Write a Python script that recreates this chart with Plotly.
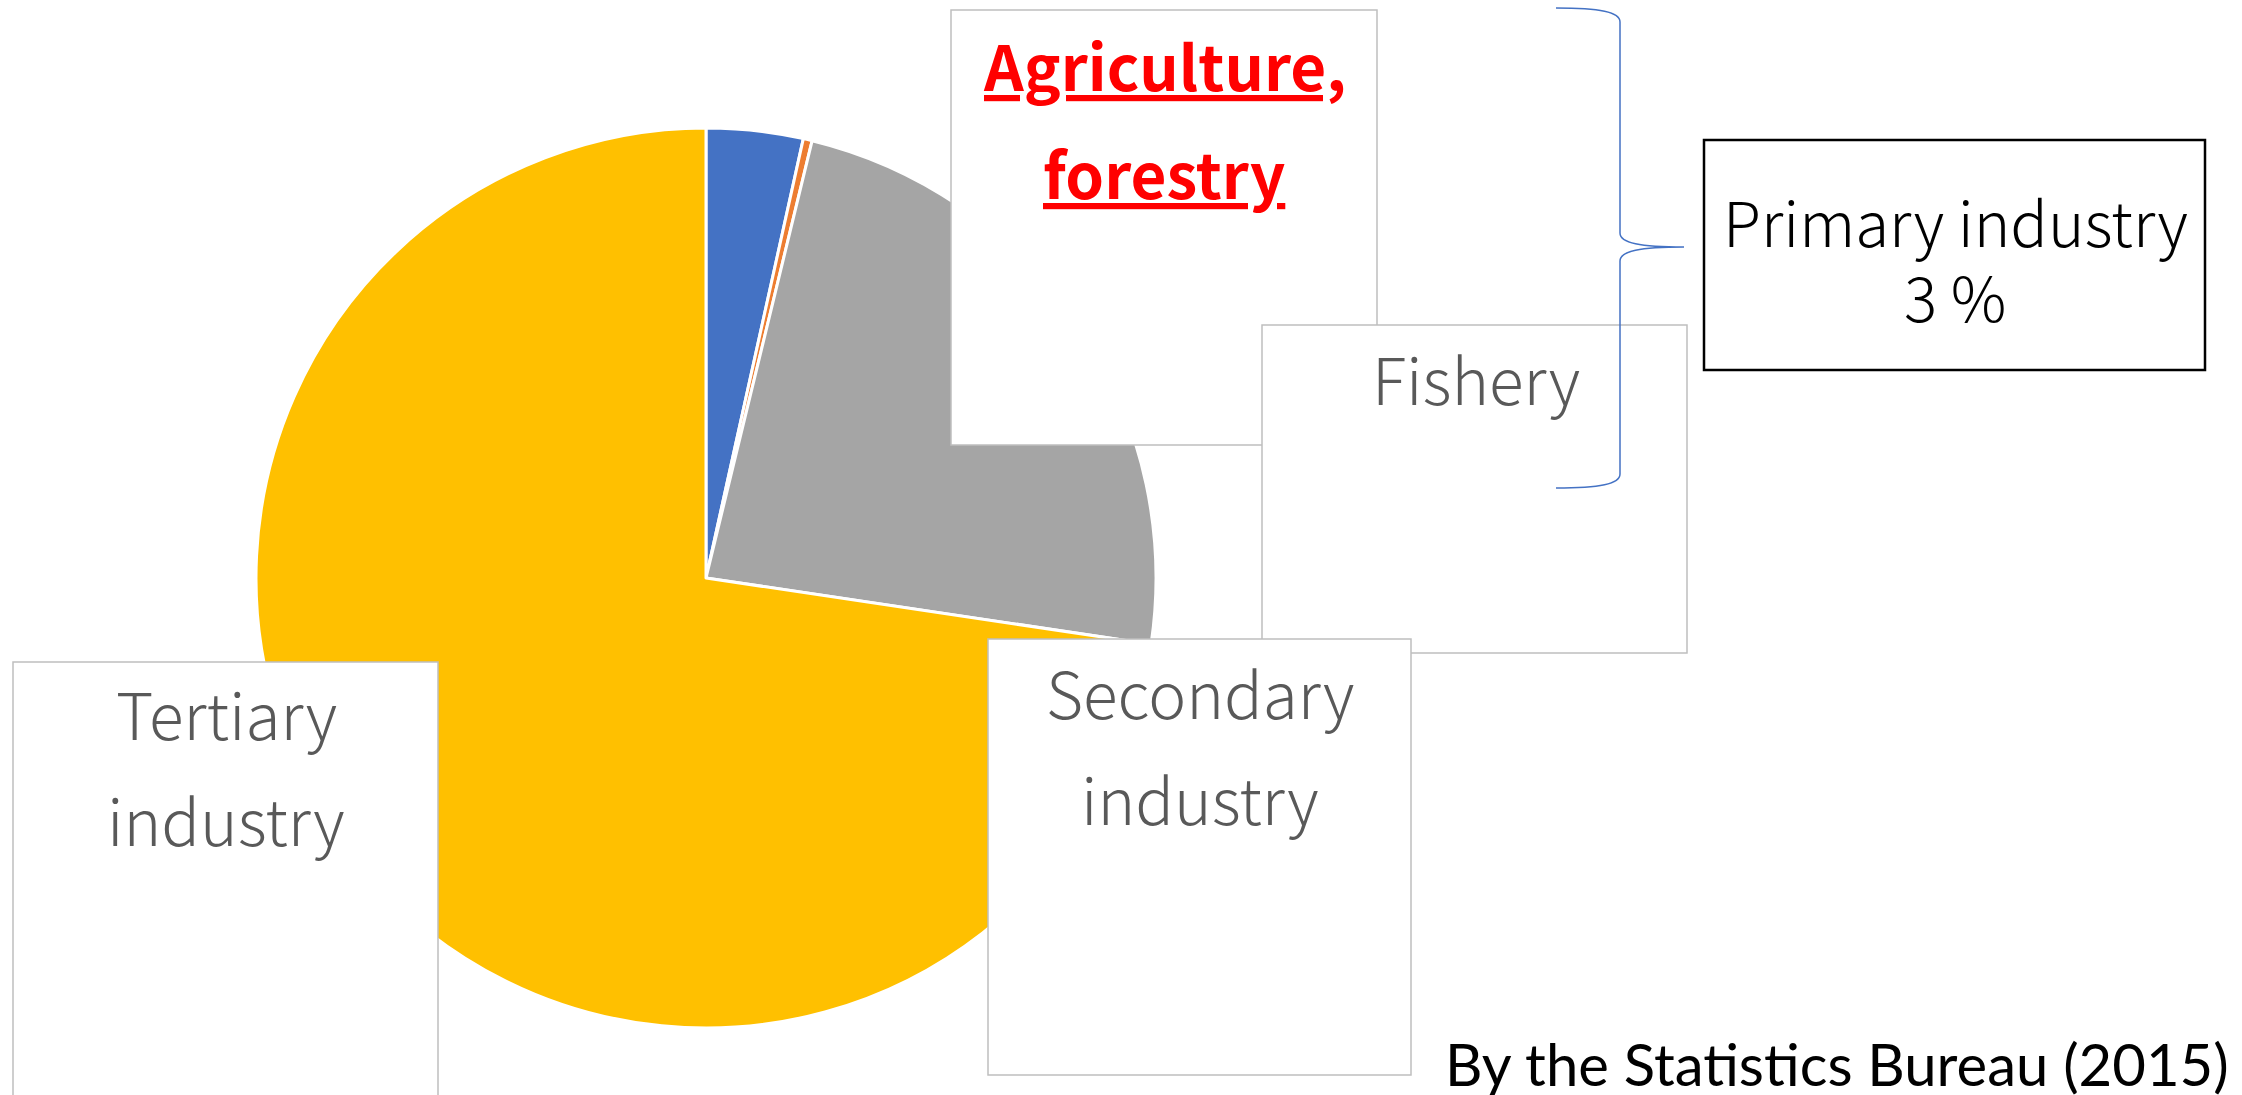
import plotly.graph_objects as go

# ---- data ----
sectors = ["Agriculture, forestry", "Fishery", "Secondary industry", "Tertiary industry"]
shares = [3.47, 0.32, 23.56, 72.65]
colors = ["#4472C4", "#ED7D31", "#A5A5A5", "#FFC000"]
primary_label = "Primary industry"
primary_share = "3 %"
source_text = "By the Statistics Bureau (2015)"

W, H = 2242, 1095


def X(px):
    return px / W


def Y(py):
    return 1 - py / H


fig = go.Figure()
fig.add_trace(go.Pie(
    labels=sectors, values=shares, sort=False, direction="clockwise", rotation=0,
    marker=dict(colors=colors, line=dict(color="white", width=3)),
    textinfo="none", hoverinfo="label+percent", showlegend=False,
    domain=dict(x=[X(256), X(1156)], y=[Y(1028), Y(128)]),
))

shapes = []


def box(x0, y0, x1, y1, color="#BFBFBF", width=1.5):
    shapes.append(dict(type="rect", xref="paper", yref="paper",
                       x0=X(x0), x1=X(x1), y0=Y(y1), y1=Y(y0),
                       fillcolor="white", line=dict(color=color, width=width),
                       layer="above"))


box(951, 10, 1377, 445)      # agriculture, forestry
box(1262, 325, 1687, 653)    # fishery
box(988, 639, 1411, 1075)    # secondary
box(13, 662, 438, 1110)      # tertiary
box(1704, 140, 2205, 370, color="black", width=2.5)  # primary

# curly brace
pts = [
    ("M", [(1556, 8)]),
    ("C", [(1600, 8), (1620, 12), (1620, 22)]),
    ("L", [(1620, 233)]),
    ("C", [(1620, 243), (1640, 247), (1684, 247)]),
    ("C", [(1640, 247), (1620, 251), (1620, 261)]),
    ("L", [(1620, 474)]),
    ("C", [(1620, 484), (1600, 488), (1556, 488)]),
]
path = " ".join(cmd + " " + " ".join(f"{X(a):.5f},{Y(b):.5f}" for a, b in p) for cmd, p in pts)
shapes.append(dict(type="path", xref="paper", yref="paper", path=path,
                   line=dict(color="#4472C4", width=1.5), layer="above"))

LBL = "Noto Sans CJK JP"
annotations = []


def label(text, x, y, size, color="#595959", weight=300, family=LBL, xanchor="center", **fkw):
    annotations.append(dict(text=text, x=X(x), y=Y(y), xref="paper", yref="paper",
                            showarrow=False, xanchor=xanchor, yanchor="middle",
                            font=dict(family=family, size=size, color=color, weight=weight, **fkw)))


label("Agriculture,", 1164, 64, 62, color="#FF0000", weight=700, lineposition="under")
label("forestry", 1164, 172, 62, color="#FF0000", weight=700, lineposition="under")
label("Fishery", 1476, 377, 64)
label("Secondary", 1200, 691, 64)
label("industry", 1200, 797, 64)
label("Tertiary", 226, 712, 64)
label("industry", 226, 818, 64)
label(primary_label, 1955, 220, 62, color="black")
label(primary_share, 1955, 295, 62, color="black")
label(source_text, 2231, 1063, 58, color="black", weight=400, family="Lato", xanchor="right")

fig.update_layout(
    width=W, height=H, margin=dict(l=0, r=0, t=0, b=0),
    paper_bgcolor="white", plot_bgcolor="white",
    shapes=shapes, annotations=annotations,
)
fig.write_html("out.html", config={"displayModeBar": False},
               post_script="document.body.style.margin='0';document.body.style.overflow='hidden';")
